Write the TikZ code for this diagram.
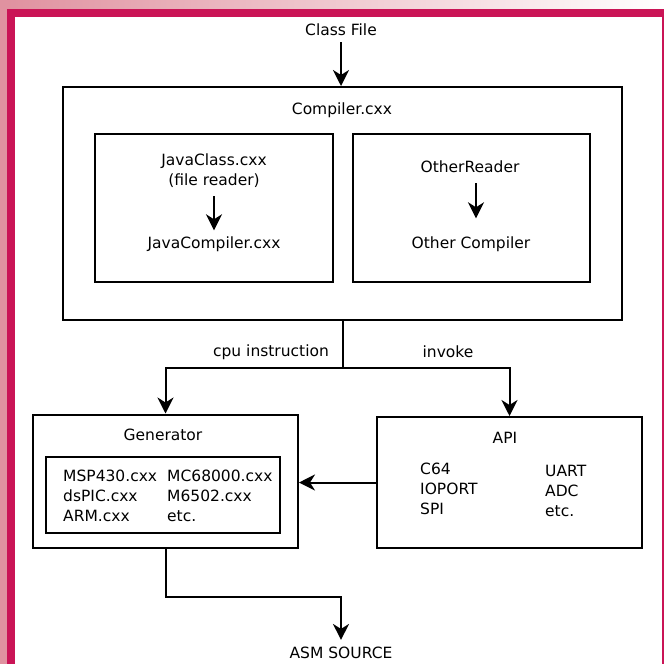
\documentclass[tikz,border=0pt]{standalone}
\usepackage{fontspec}
\setmainfont{DejaVu Sans}
\usetikzlibrary{arrows.meta}
\definecolor{framepink}{RGB}{202,20,86}
\definecolor{edgepink}{RGB}{224,146,160}

\begin{document}
\begin{tikzpicture}
[x=1pt, y=-1pt,
  boxdecorate/.style={draw, line width=2pt, inner sep=0pt},
  labeldecorate/.style={font=\fontsize{15.5}{20}\selectfont, inner sep=0pt},
  linedecorate/.style={line width=2pt},
  arrowdecorate/.style={line width=2pt, -{Stealth[length=16pt, width=16pt, inset=5pt]}}]
\useasboundingbox (0,0) rectangle (664,664);
%% frame
\fill[edgepink] (0,0) rectangle (7,664);
\shade[left color=edgepink, right color=white] (7,0) rectangle (664,9);
\fill[framepink] (7,9) rectangle (664,17);
\fill[framepink] (7,9) rectangle (15,664);
\fill[framepink] (662,9) rectangle (664,664);
%% boxes
\foreach \nodename/\x/\y/\w/\h in {compiler/342.5/203.5/559/233,
  javabox/214/208/238/148, otherbox/471.5/208/237/148,
  generator/165.5/481/265/133, targets/163/495/234/76,
  api/509.5/482.5/265/131}
{
  \node (\nodename) at (\x,\y) [boxdecorate, minimum width=\w, minimum height=\h] {};
}
%% texts
\node (classfile) at (341,30) [labeldecorate] {Class File};
\node (compilername) at (342,110) [labeldecorate] {Compiler.cxx};
\node (javaclass) at (214,171) [labeldecorate, align=center] {JavaClass.cxx\\(file reader)};
\node (javacompiler) at (214,244) [labeldecorate] {JavaCompiler.cxx};
\node (otherreader) at (470,167) [labeldecorate] {OtherReader};
\node (othercompiler) at (471,244) [labeldecorate] {Other Compiler};
\node (cpulabel) at (271,352) [labeldecorate] {cpu instruction};
\node (invokelabel) at (448,352) [labeldecorate] {invoke};
\node (generatorname) at (163,435) [labeldecorate] {Generator};
\node (apiname) at (505,438) [labeldecorate] {API};
\node (targetsleft) at (63,496) [labeldecorate, anchor=west, align=left] {MSP430.cxx\\dsPIC.cxx\\ARM.cxx};
\node (targetsright) at (167,496) [labeldecorate, anchor=west, align=left] {MC68000.cxx\\M6502.cxx\\etc.};
\node (apileft) at (420,489) [labeldecorate, anchor=west, align=left] {C64\\IOPORT\\SPI};
\node (apiright) at (545,491) [labeldecorate, anchor=west, align=left] {UART\\ADC\\etc.};
\node (asmsource) at (341,653) [labeldecorate] {ASM SOURCE};
%% connectors
\coordinate (split) at (342.5,368);
\coordinate (bend) at (167,597);
\coordinate (readerdown) at (476,183);
\draw[arrowdecorate] ([yshift=-6pt]classfile.south) -- (classfile.south |- compiler.north);
\draw[arrowdecorate] ([yshift=-8pt]javaclass.south) -- ([yshift=6pt]javacompiler.north);
\draw[arrowdecorate] (readerdown) -- ([yshift=18pt]readerdown |- othercompiler.north);
\draw[linedecorate] (compiler.south) -- (split);
\draw[arrowdecorate] (split) -| (generator.north);
\draw[arrowdecorate] (split) -| (api.north);
\draw[arrowdecorate] (api.west) -- (api.west -| generator.east);
\draw[arrowdecorate] (generator.south) |- (bend -| asmsource.north) -- ([yshift=7pt]asmsource.north);
\end{tikzpicture}
\end{document}
